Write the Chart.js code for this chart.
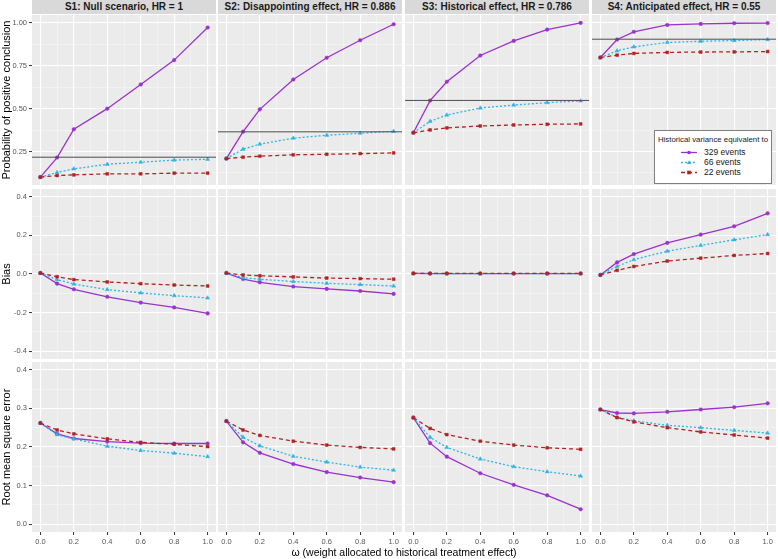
<!DOCTYPE html>
<html>
<head>
<meta charset="utf-8">
<script src="https://cdn.jsdelivr.net/npm/chart.js@4.4.1/dist/chart.umd.min.js"></script>
<style>
body { margin: 0; background: #fff; font-family: "Liberation Sans", Arial, sans-serif; }
#wrap { position: relative; width: 778px; height: 559px; overflow: hidden; background: #fff; }
#wrap canvas { position: absolute; }
.strip { position: absolute; top: 0; height: 14px; line-height: 14px; background: #D9D9D9; color: #1A1A1A;
         font-size: 10px; font-weight: bold; text-align: center; white-space: nowrap; overflow: hidden; }
#xtitle { position: absolute; left: 32px; width: 744px; top: 546px; text-align: center; font-size: 10.5px; color: #000; }
#legend { position: absolute; left: 654px; top: 130px; width: 118px; height: 54px; background: #fff;
          border: 1px solid #7F7F7F; box-sizing: border-box; color: #1A1A1A; }
#legend .lt { position: absolute; left: 0; right: 0; top: 4px; text-align: center; font-size: 7.8px; white-space: nowrap; }
#legend .it { position: absolute; left: 26px; height: 9px; line-height: 9px; font-size: 8.5px; }
#legend .it svg { position: absolute; left: 0; top: 0; }
#legend .it span { position: absolute; left: 23px; top: 0; white-space: nowrap; }
</style>
</head>
<body>
<div id="wrap"></div>
<script>
// x positions of the estimates (omega) and panel titles
const omega = [0, 0.1, 0.2, 0.4, 0.6, 0.8, 1.0];
const scenarioTitles = [
    'S1: Null scenario, HR = 1',
    'S2: Disappointing effect, HR = 0.886',
    'S3: Historical effect, HR = 0.786',
    'S4: Anticipated effect, HR = 0.55'
];
const seriesNames = ['329 events', '66 events', '22 events'];

// tick labels
const xTicks = [0, 0.2, 0.4, 0.6, 0.8, 1.0];
const probTicks = [0.25, 0.50, 0.75, 1.00];
const biasTicks = [-0.4, -0.2, 0.0, 0.2, 0.4];
const rmseTicks = [0.0, 0.1, 0.2, 0.3, 0.4];

// target probability (horizontal line), one per scenario
const probTarget = [0.217, 0.365, 0.548, 0.905];

// probability of positive conclusion, [scenario][omega]
const prob329 = [
    [0.101, 0.215, 0.380, 0.500, 0.641, 0.783, 0.973],
    [0.209, 0.366, 0.496, 0.670, 0.797, 0.899, 0.992],
    [0.360, 0.547, 0.657, 0.810, 0.895, 0.961, 1.000],
    [0.798, 0.903, 0.948, 0.988, 0.994, 0.998, 0.999]
];
const prob66 = [
    [0.101, 0.128, 0.149, 0.176, 0.188, 0.200, 0.205],
    [0.209, 0.264, 0.293, 0.328, 0.345, 0.357, 0.368],
    [0.360, 0.426, 0.463, 0.504, 0.521, 0.535, 0.545],
    [0.798, 0.837, 0.860, 0.886, 0.893, 0.897, 0.903]
];
const prob22 = [
    [0.101, 0.110, 0.114, 0.120, 0.120, 0.124, 0.124],
    [0.209, 0.217, 0.223, 0.231, 0.234, 0.238, 0.242],
    [0.360, 0.376, 0.388, 0.399, 0.405, 0.409, 0.411],
    [0.798, 0.812, 0.822, 0.828, 0.830, 0.831, 0.833]
];

// bias
const bias329 = [
    [0.005, -0.050, -0.079, -0.118, -0.148, -0.173, -0.204],
    [0.005, -0.026, -0.043, -0.065, -0.077, -0.088, -0.103],
    [0.003, 0.002, 0.002, 0.002, 0.002, 0.002, 0.002],
    [-0.005, 0.060, 0.103, 0.161, 0.204, 0.247, 0.314]
];
const bias66 = [
    [0.005, -0.029, -0.052, -0.081, -0.098, -0.112, -0.124],
    [0.005, -0.019, -0.027, -0.039, -0.048, -0.055, -0.062],
    [0.003, 0.003, 0.002, 0.002, 0.002, 0.002, 0.002],
    [-0.005, 0.039, 0.074, 0.118, 0.148, 0.177, 0.204]
];
const bias22 = [
    [0.005, -0.014, -0.029, -0.041, -0.050, -0.057, -0.062],
    [0.005, -0.005, -0.009, -0.015, -0.021, -0.024, -0.027],
    [0.003, 0.003, 0.003, 0.003, 0.003, 0.003, 0.003],
    [-0.005, 0.019, 0.039, 0.067, 0.082, 0.096, 0.106]
];

// root mean square error
const rmse329 = [
    [0.262, 0.234, 0.222, 0.214, 0.210, 0.209, 0.209],
    [0.267, 0.212, 0.185, 0.156, 0.135, 0.121, 0.109],
    [0.276, 0.210, 0.175, 0.132, 0.102, 0.075, 0.039],
    [0.297, 0.288, 0.287, 0.291, 0.297, 0.303, 0.313]
];
const rmse66 = [
    [0.262, 0.232, 0.221, 0.202, 0.191, 0.184, 0.175],
    [0.267, 0.225, 0.203, 0.176, 0.161, 0.148, 0.140],
    [0.276, 0.225, 0.199, 0.169, 0.149, 0.136, 0.125],
    [0.297, 0.277, 0.268, 0.256, 0.250, 0.243, 0.236]
];
const rmse22 = [
    [0.262, 0.244, 0.234, 0.221, 0.212, 0.207, 0.201],
    [0.267, 0.244, 0.230, 0.215, 0.205, 0.199, 0.195],
    [0.276, 0.248, 0.232, 0.215, 0.205, 0.198, 0.194],
    [0.297, 0.276, 0.265, 0.250, 0.239, 0.231, 0.223]
];

const rows = [
    { title: 'Probability of positive conclusion', sets: [prob329, prob66, prob22], ticks: probTicks, min: 0.055, max: 1.046, digits: 2, ref: probTarget },
    { title: 'Bias', sets: [bias329, bias66, bias22], ticks: biasTicks, min: -0.44, max: 0.44, digits: 1 },
    { title: 'Root mean square error', sets: [rmse329, rmse66, rmse22], ticks: rmseTicks, min: -0.02, max: 0.42, digits: 1 }
];

const styles = [
    { color: '#9A32CD', dash: [], point: 'circle', radius: 1.8 },
    { color: '#2CB5E6', dash: [2, 2], point: 'triangle', radius: 2.3 },
    { color: '#B22222', dash: [4, 3], point: 'rect', radius: 2 }
];

// layout
const colLeft = [32, 218, 405, 592];
const rowTop = [15, 189, 362];
const W = 184, H = 170, YAXIS = 32, XAXIS = 20;

Chart.defaults.font.family = '"Liberation Sans", Arial, sans-serif';
Chart.defaults.color = '#555';

function withMinor(majors, min, max) {
    const step = majors[1] - majors[0];
    const out = majors.slice();
    for (let i = -1; i < majors.length; i++) {
        const m = majors[0] + (i + 0.5) * step;
        if (m >= min && m <= max) out.push(m);
    }
    return out.sort((a, b) => a - b);
}
function isMajor(v, majors) {
    return majors.some(m => Math.abs(m - v) < 1e-9);
}
function noPad(s) {
    s.paddingTop = 0; s.paddingBottom = 0; s.paddingLeft = 0; s.paddingRight = 0;
}

const panelBg = {
    id: 'panelBg',
    beforeDraw(chart) {
        const a = chart.chartArea, c = chart.ctx;
        c.save();
        c.fillStyle = '#EBEBEB';
        c.fillRect(a.left, a.top, a.right - a.left, a.bottom - a.top);
        c.restore();
    }
};
const refLine = {
    id: 'refLine',
    afterDatasetsDraw(chart, args, opts) {
        if (opts.value == null) return;
        const a = chart.chartArea, c = chart.ctx;
        const y = chart.scales.y.getPixelForValue(opts.value);
        c.save();
        c.strokeStyle = '#4D4D4D';
        c.lineWidth = 1;
        c.beginPath();
        c.moveTo(a.left, y);
        c.lineTo(a.right, y);
        c.stroke();
        c.restore();
    }
};

function gridFor(majors, showTicks) {
    const maj = ctx => ctx.tick && isMajor(ctx.tick.value, majors);
    return {
        color: ctx => maj(ctx) ? '#FFFFFF' : 'rgba(255,255,255,0.6)',
        lineWidth: ctx => maj(ctx) ? 1.1 : 0.6,
        drawTicks: showTicks,
        tickLength: 3,
        tickWidth: 1,
        tickColor: ctx => maj(ctx) ? '#333' : 'rgba(0,0,0,0)'
    };
}

const wrap = document.getElementById('wrap');

scenarioTitles.forEach((t, c) => {
    const s = document.createElement('div');
    s.className = 'strip';
    s.style.left = colLeft[c] + 'px';
    s.style.width = W + 'px';
    s.textContent = t;
    wrap.appendChild(s);
});

rows.forEach((row, r) => {
    for (let c = 0; c < 4; c++) {
        const leftAxis = c === 0, bottomAxis = r === rows.length - 1;
        const cv = document.createElement('canvas');
        const cw = W + (leftAxis ? YAXIS : 0), ch = H + (bottomAxis ? XAXIS : 0);
        cv.width = cw; cv.height = ch;
        cv.style.left = (colLeft[c] - (leftAxis ? YAXIS : 0)) + 'px';
        cv.style.top = rowTop[r] + 'px';
        wrap.appendChild(cv);

        const datasets = row.sets.map((set, k) => ({
            label: seriesNames[k],
            data: omega.map((x, i) => ({ x: x, y: set[c][i] })),
            borderColor: styles[k].color,
            backgroundColor: styles[k].color,
            borderWidth: 1.3,
            borderDash: styles[k].dash,
            pointStyle: styles[k].point,
            pointRadius: styles[k].radius,
            pointBorderWidth: 0.5,
            tension: 0,
            order: 3 - k
        }));

        const xAll = withMinor(xTicks, -0.05, 1.05);
        const yAll = withMinor(row.ticks, row.min, row.max);

        new Chart(cv.getContext('2d'), {
            type: 'line',
            data: { datasets: datasets },
            options: {
                responsive: false,
                animation: false,
                layout: { padding: 0, autoPadding: false },
                plugins: {
                    legend: { display: false },
                    tooltip: { enabled: false },
                    refLine: { value: row.ref ? row.ref[c] : null }
                },
                scales: {
                    x: {
                        type: 'linear', min: -0.05, max: 1.05,
                        afterBuildTicks: s => { s.ticks = xAll.map(v => ({ value: v })); },
                        afterFit: s => { s.height = bottomAxis ? XAXIS : 0; noPad(s); },
                        border: { display: false },
                        grid: gridFor(xTicks, bottomAxis),
                        ticks: {
                            display: bottomAxis, autoSkip: false, maxRotation: 0, padding: 2,
                            font: { size: 7.5 }, color: '#555',
                            callback: v => isMajor(v, xTicks) ? v.toFixed(1) : ''
                        }
                    },
                    y: {
                        type: 'linear', min: row.min, max: row.max,
                        afterBuildTicks: s => { s.ticks = yAll.map(v => ({ value: v })); },
                        afterFit: s => { s.width = leftAxis ? YAXIS : 0; noPad(s); },
                        border: { display: false },
                        grid: gridFor(row.ticks, leftAxis),
                        title: {
                            display: leftAxis, text: row.title, color: '#000',
                            font: { size: 11 }, padding: { top: 0, bottom: 0 }
                        },
                        ticks: {
                            display: leftAxis, autoSkip: false, padding: 2,
                            font: { size: 7.5 }, color: '#555',
                            callback: v => isMajor(v, row.ticks) ? v.toFixed(row.digits) : ''
                        }
                    }
                }
            },
            plugins: [panelBg, refLine]
        });
    }
});

const xt = document.createElement('div');
xt.id = 'xtitle';
xt.textContent = '\u03C9 (weight allocated to historical treatment effect)';
wrap.appendChild(xt);

// legend inside the S4 probability panel
const lg = document.createElement('div');
lg.id = 'legend';
let html = '<div class="lt">Historical variance equivalent to</div>';
const itemTop = [17, 27, 37];
seriesNames.forEach((name, k) => {
    const st = styles[k];
    let mark = '';
    if (st.point === 'circle') mark = `<circle cx="8" cy="4.5" r="1.8" fill="${st.color}"/>`;
    if (st.point === 'triangle') mark = `<polygon points="8,2.2 10.2,6 5.8,6" fill="${st.color}"/>`;
    if (st.point === 'rect') mark = `<rect x="6.2" y="2.7" width="3.6" height="3.6" fill="${st.color}"/>`;
    html += `<div class="it" style="top:${itemTop[k]}px"><svg width="16" height="9">` +
        `<line x1="0" y1="4.5" x2="16" y2="4.5" stroke="${st.color}" stroke-width="1.3" stroke-dasharray="${st.dash.join(',') || 'none'}"/>` +
        mark + `</svg><span>${name}</span></div>`;
});
lg.innerHTML = html;
wrap.appendChild(lg);
</script>
</body>
</html>
